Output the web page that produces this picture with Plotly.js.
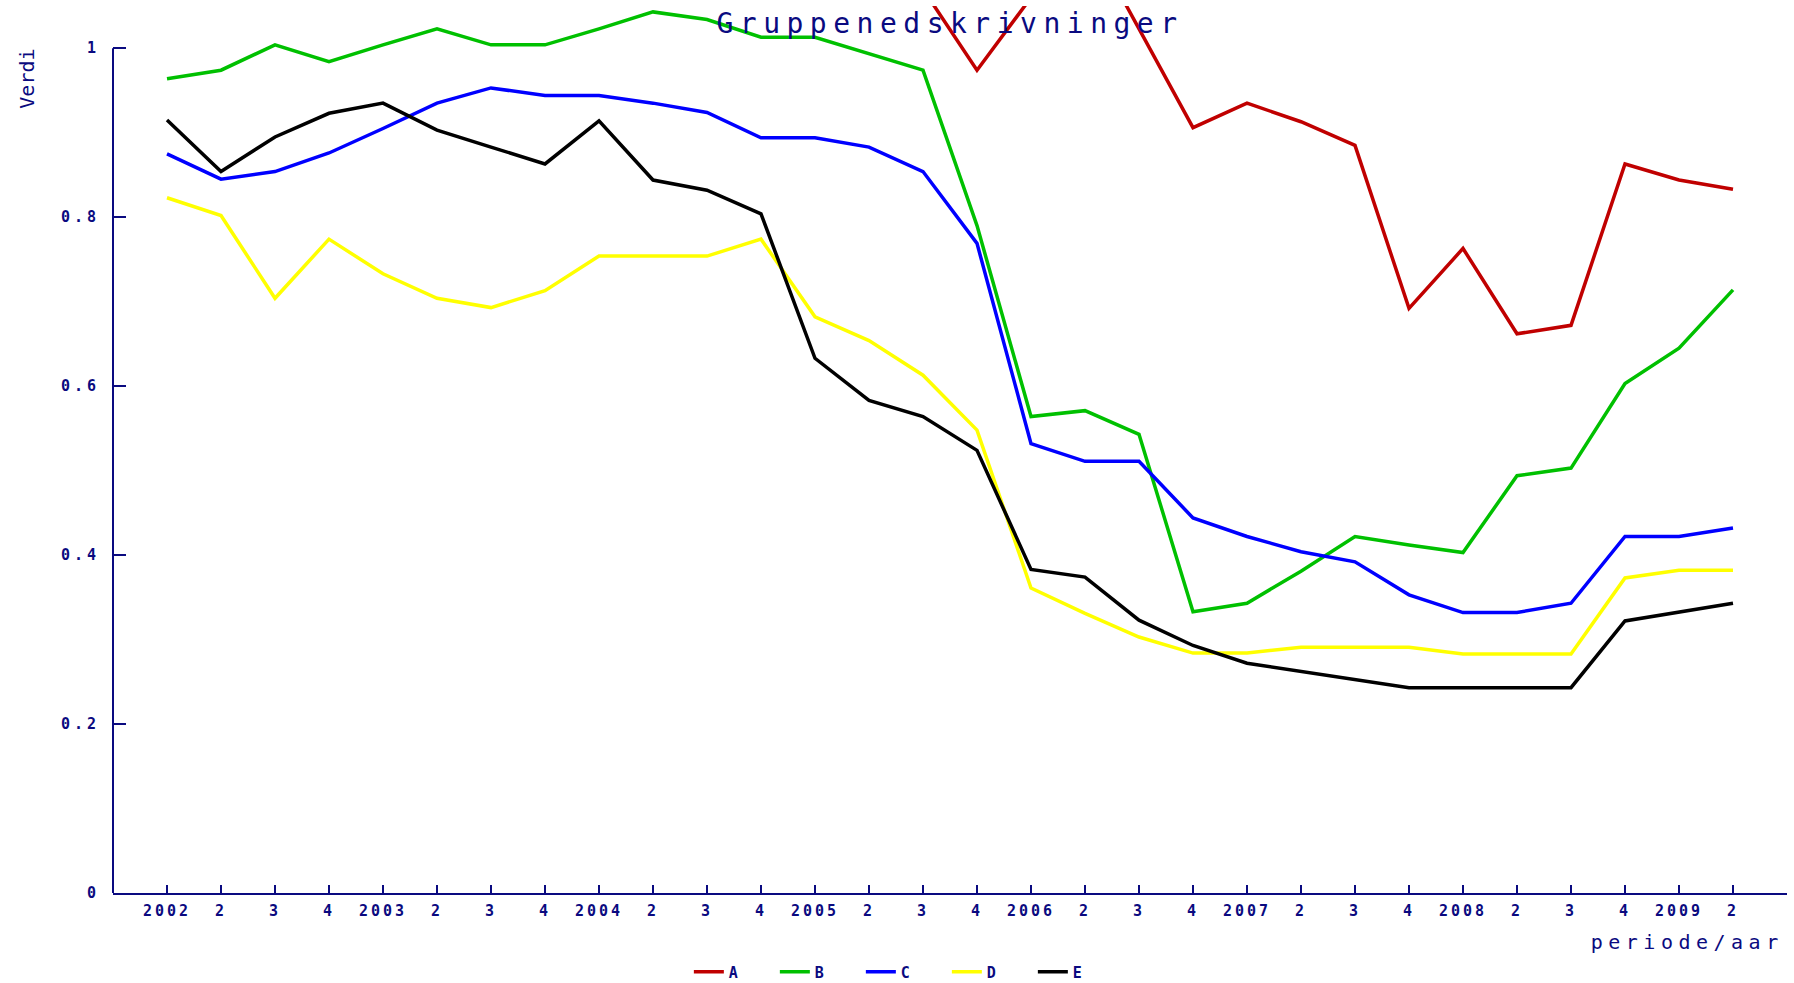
<!DOCTYPE html>
<html>
<head>
<meta charset="utf-8">
<script src="https://cdn.plot.ly/plotly-3.0.1.min.js"></script>
<style>
  html, body { margin: 0; padding: 0; background: #ffffff; }
  #chart { width: 1794px; height: 983px; }
  .gtitle { letter-spacing: 6.5px; }
  .xtick text { letter-spacing: 3px; }
  .ytick text { letter-spacing: 4px; }
  .annotation-text.xlabel { letter-spacing: 5.5px; }
  .legendtext { letter-spacing: 2px; }
</style>
</head>
<body>
<div id="chart"></div>
<script>
// Categories (quarters): year label at first quarter, then 2, 3, 4
const categories = ["2002","2","3","4","2003","2","3","4","2004","2","3","4",
                    "2005","2","3","4","2006","2","3","4","2007","2","3","4",
                    "2008","2","3","4","2009","2"];

// Series values (A runs above the top of the chart in the early periods)
const seriesA = [1.12,1.10,1.15,1.13,1.16,1.18,1.14,1.12,1.17,1.19,1.15,1.13,1.11,1.09,
                 1.07,0.974,1.06,1.14,1.023,0.906,0.935,0.913,0.885,0.692,0.763,0.662,0.672,0.863,0.844,0.833];
const seriesB = [0.964,0.974,1.004,0.984,1.004,1.023,1.004,1.004,1.023,1.043,1.034,1.013,1.013,0.994,
                 0.974,0.79,0.564,0.571,0.543,0.333,0.343,0.381,0.422,0.412,0.403,0.494,0.503,0.603,0.645,0.714];
const seriesC = [0.875,0.845,0.854,0.876,0.905,0.935,0.953,0.944,0.944,0.935,0.924,0.894,0.894,0.883,
                 0.854,0.769,0.532,0.511,0.511,0.444,0.422,0.404,0.392,0.353,0.332,0.332,0.343,0.422,0.422,0.432];
const seriesD = [0.823,0.802,0.704,0.774,0.733,0.704,0.693,0.713,0.754,0.754,0.754,0.774,0.682,0.654,
                 0.613,0.548,0.361,0.331,0.303,0.284,0.284,0.291,0.291,0.291,0.283,0.283,0.283,0.373,0.382,0.382];
const seriesE = [0.915,0.854,0.895,0.923,0.935,0.903,0.883,0.863,0.914,0.844,0.832,0.804,0.633,0.583,
                 0.564,0.524,0.383,0.374,0.323,0.293,0.272,0.262,0.252,0.243,0.243,0.243,0.243,0.322,0.333,0.343];

const seriesNames = ["A","B","C","D","E"];
const yTickVals = [0, 0.2, 0.4, 0.6, 0.8, 1];
const yTickText = ["0","0.2","0.4","0.6","0.8","1"];

const colors = ["#c00000","#00c000","#0000ff","#ffff00","#000000"];
const navy = "#0a0a80";
const mono = "DejaVu Sans Mono, monospace";

const xIdx = categories.map((_, i) => i);
const allSeries = [seriesA, seriesB, seriesC, seriesD, seriesE];

const traces = allSeries.map((vals, k) => ({
  type: "scatter",
  mode: "lines",
  x: xIdx,
  y: vals,
  name: seriesNames[k],
  line: { color: colors[k], width: 3.5 },
  hoverinfo: "skip"
}));

const layout = {
  width: 1794,
  height: 983,
  paper_bgcolor: "#ffffff",
  plot_bgcolor: "#ffffff",
  margin: { l: 113, r: 7, t: 6, b: 90, autoexpand: false },
  title: {
    text: "Gruppenedskrivninger",
    font: { family: mono, size: 28, color: navy },
    x: 0.5, xref: "paper", xanchor: "center",
    y: 1 - 23 / 983, yref: "container", yanchor: "middle"
  },
  showlegend: true,
  legend: {
    orientation: "h",
    x: 0.344, xanchor: "left",
    y: 1 - 972 / 983, yref: "container", yanchor: "middle",
    font: { family: mono, size: 15, color: navy, weight: "bold" },
    entrywidth: 41, entrywidthmode: "pixels",
    bgcolor: "rgba(0,0,0,0)",
    traceorder: "normal"
  },
  xaxis: {
    range: [-1, 30],
    automargin: false,
    tickmode: "array",
    tickvals: xIdx,
    ticktext: categories,
    tickangle: 0,
    ticks: "inside",
    ticklen: 8,
    tickwidth: 2,
    tickcolor: navy,
    showline: true,
    linecolor: navy,
    linewidth: 2,
    showgrid: false,
    zeroline: false,
    ticklabelstandoff: 3,
    tickfont: { family: mono, size: 15, color: navy, weight: "bold" },
    fixedrange: true
  },
  yaxis: {
    range: [0, 1.05],
    automargin: false,
    tickmode: "array",
    tickvals: yTickVals,
    ticktext: yTickText,
    ticks: "inside",
    ticklen: 13,
    tickwidth: 2,
    tickcolor: navy,
    showline: false,
    showgrid: false,
    zeroline: false,
    ticklabelstandoff: 12,
    tickfont: { family: mono, size: 15, color: navy, weight: "bold" },
    fixedrange: true
  },
  shapes: [{
    type: "line", xref: "paper", yref: "y",
    x0: 0, x1: 0, y0: 0, y1: 1,
    line: { color: navy, width: 2 }
  }],
  annotations: [
    {
      text: "Verdi", xref: "paper", yref: "paper",
      x: -0.0514, y: 0.918, xanchor: "center", yanchor: "middle",
      textangle: -90, showarrow: false,
      font: { family: mono, size: 20, color: navy }
    },
    {
      text: "periode/aar", xref: "paper", yref: "paper",
      x: 0.940, y: -0.0552, xanchor: "center", yanchor: "middle",
      showarrow: false, captureevents: false,
      font: { family: mono, size: 20, color: navy }
    }
  ]
};

Plotly.newPlot("chart", traces, layout, { displayModeBar: false, staticPlot: true }).then(() => {
  const ann = document.querySelectorAll(".annotation-text");
  ann.forEach(n => { if (n.textContent === "periode/aar") n.classList.add("xlabel"); });
});
</script>
</body>
</html>
